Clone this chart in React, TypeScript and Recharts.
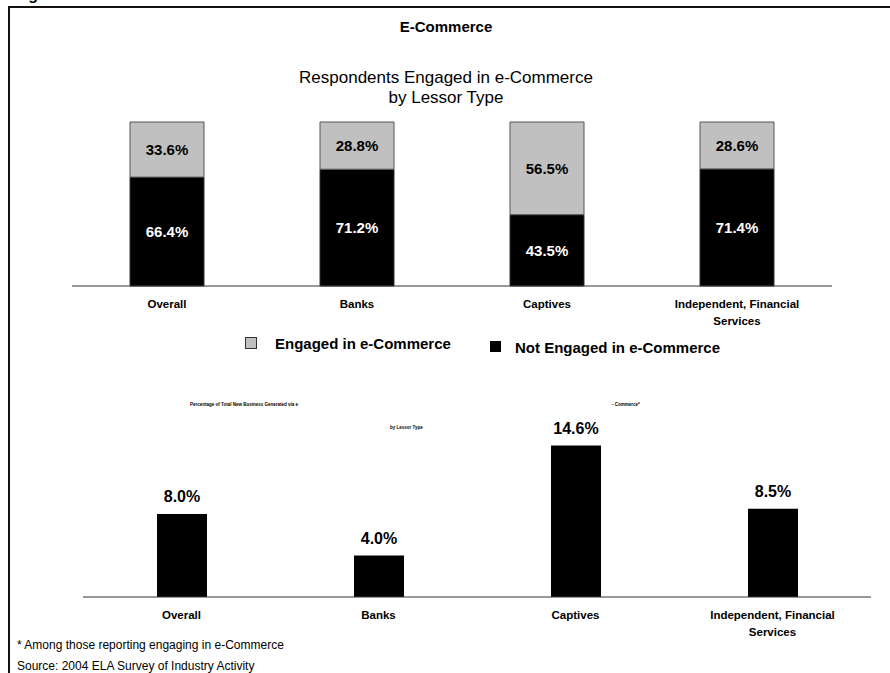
import React from 'react';
import { BarChart, Bar, XAxis, YAxis, LabelList } from 'recharts';

const lessorTypes = ['Overall', 'Banks', 'Captives', 'Independent, Financial Services'];
const engaged = [33.6, 28.8, 56.5, 28.6];
const notEngaged = [66.4, 71.2, 43.5, 71.4];
const newBizShare = [8.0, 4.0, 14.6, 8.5];

const FONT = 'Arial, "Liberation Sans", sans-serif';
const GRAY = '#c0c0c0';

const topData = lessorTypes.map((name, i) => ({ name, engaged: engaged[i], notEngaged: notEngaged[i] }));
const bottomData = lessorTypes.map((name, i) => ({ name, share: newBizShare[i] }));

const pct = (v: any) => `${Number(v).toFixed(1)}%`;

// category labels, long ones broken in two lines
const WrapTick = (props: any) => {
  const { x, y, payload } = props;
  const words = String(payload.value).split(' ');
  const lines = words.length > 2 ? [words.slice(0, 2).join(' '), words.slice(2).join(' ')] : [payload.value];
  return (
    <text x={x} y={y} textAnchor="middle" fontFamily={FONT} fontSize={11.5} fontWeight="bold" fill="#000">
      {lines.map((l: string, i: number) => (
        <tspan key={i} x={x} y={y + 22 + i * 17}>{l}</tspan>
      ))}
    </text>
  );
};

export default function App() {
  return (
    <div style={{ position: 'absolute', left: 0, top: 0, width: 890, height: 673, overflow: 'hidden', fontFamily: FONT, background: '#fff' }}>
      <div style={{ position: 'absolute', left: 72, top: 100 }}>
        <BarChart width={760} height={250} data={topData} margin={{ top: 22, right: 0, bottom: 0, left: 0 }} barSize={74}>
          <XAxis dataKey="name" height={64} tickLine={false} tickSize={0} tickMargin={0} axisLine={{ stroke: '#333' }} tick={<WrapTick />} interval={0} />
          <YAxis hide domain={[0, 100]} />
          <Bar dataKey="notEngaged" stackId="a" fill="#000" stroke="#333" strokeWidth={1} isAnimationActive={false}>
            <LabelList dataKey="notEngaged" position="center" formatter={pct} fill="#fff" fontSize={15} fontWeight="bold" fontFamily={FONT} />
          </Bar>
          <Bar dataKey="engaged" stackId="a" fill={GRAY} stroke="#555" strokeWidth={1} isAnimationActive={false}>
            <LabelList dataKey="engaged" position="center" formatter={pct} fill="#000" fontSize={15} fontWeight="bold" fontFamily={FONT} />
          </Bar>
        </BarChart>
      </div>

      <div style={{ position: 'absolute', left: 83, top: 411 }}>
        <BarChart width={788} height={250} data={bottomData} margin={{ top: 20, right: 0, bottom: 0, left: 0 }} barSize={50}>
          <XAxis dataKey="name" height={64} tickLine={false} tickSize={0} tickMargin={0} axisLine={{ stroke: '#333' }} tick={<WrapTick />} interval={0} />
          <YAxis hide domain={[0, 16]} />
          <Bar dataKey="share" fill="#000" isAnimationActive={false}>
            <LabelList dataKey="share" position="top" offset={12} formatter={pct} fill="#000" fontSize={16} fontWeight="bold" fontFamily={FONT} />
          </Bar>
        </BarChart>
      </div>

      <svg width={890} height={673} style={{ position: 'absolute', left: 0, top: 0, pointerEvents: 'none' }} fontFamily={FONT}>
        {/* page frame */}
        <line x1={8} y1={7} x2={890} y2={7} stroke="#111" strokeWidth={2} />
        <line x1={9} y1={6} x2={9} y2={673} stroke="#111" strokeWidth={2} />

        <text x={14} y={-0.3} fontSize={16} fontWeight="bold">Figure</text>
        <text x={446} y={32} textAnchor="middle" fontSize={15} fontWeight="bold">E-Commerce</text>
        <text x={446} y={83} textAnchor="middle" fontSize={17}>Respondents Engaged in e-Commerce</text>
        <text x={446} y={103} textAnchor="middle" fontSize={17}>by Lessor Type</text>

        <rect x={245.5} y={337.5} width={11} height={11} fill={GRAY} stroke="#333" />
        <text x={275} y={349} fontSize={15} fontWeight="bold">Engaged in e-Commerce</text>
        <rect x={490} y={341} width={11} height={11} fill="#000" />
        <text x={515} y={353} fontSize={15} fontWeight="bold">Not Engaged in e-Commerce</text>

        <text x={190} y={406} fontSize={4.5} fontWeight="bold">Percentage of Total New Business Generated via e</text>
        <text x={612} y={406} fontSize={4.5} fontWeight="bold">-   Commerce*</text>
        <text x={390} y={429} fontSize={4.5} fontWeight="bold">by Lessor Type</text>

        <text x={17} y={649} fontSize={12}>* Among those reporting engaging in e-Commerce</text>
        <text x={17} y={670} fontSize={12}>Source: 2004 ELA Survey of Industry Activity</text>
      </svg>
    </div>
  );
}
